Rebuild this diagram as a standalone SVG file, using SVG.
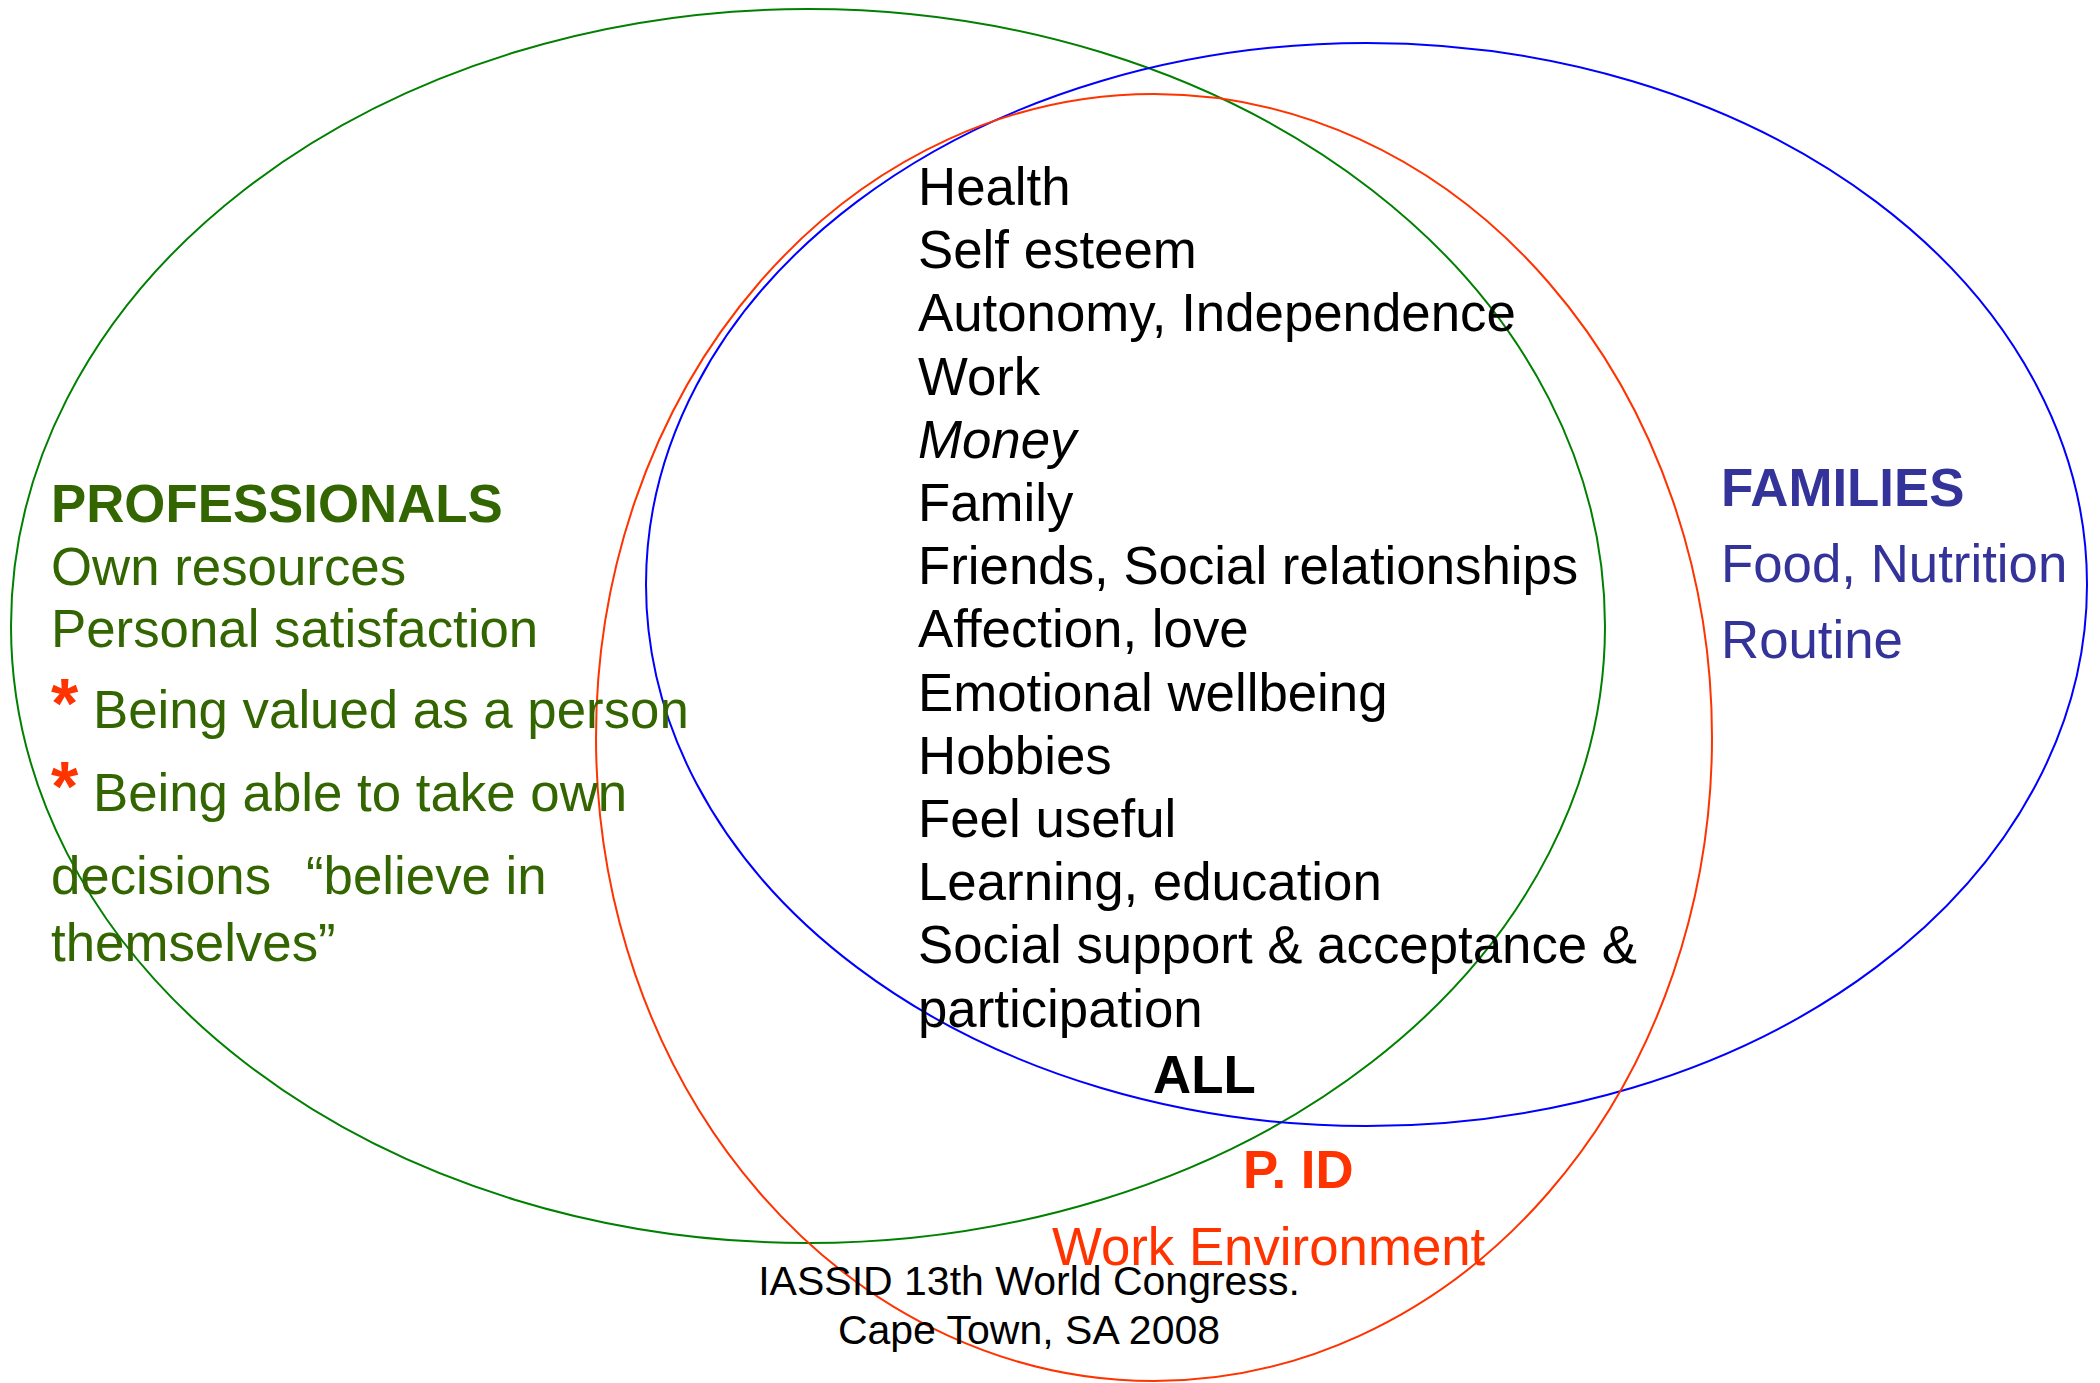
<svg xmlns="http://www.w3.org/2000/svg" width="2100" height="1383" viewBox="0 0 2100 1383">
<style>
text{font-family:"Liberation Sans",Arial,sans-serif;font-size:52.8px}
.ell{fill:none;stroke-width:2}
.blk{fill:#000}
.grn{fill:#336600}
.blu{fill:#333399}
.red{fill:#ff3300}
.b{font-weight:bold}
.ast{fill:#ff3300;font-weight:bold;font-size:70px}
.foot{font-size:41px;fill:#000;text-anchor:middle}
</style>
<rect width="2100" height="1383" fill="#fff"/>
<g id="sets">
<ellipse id="set-professionals" class="ell" cx="808" cy="626" rx="797" ry="617" stroke="#008000"/>
<ellipse id="set-families" class="ell" cx="1366.5" cy="584.5" rx="720.5" ry="541.5" stroke="#0000ff"/>
<ellipse id="set-pid" class="ell" cx="1154" cy="737.5" rx="558" ry="643.5" stroke="#ff3300"/>
</g>
<g id="connectors"></g>
<g id="common-needs" class="blk">
<text x="918" y="205">Health</text>
<text x="918" y="268">Self esteem</text>
<text x="918" y="331">Autonomy, Independence</text>
<text x="918" y="395">Work</text>
<text x="918" y="458" font-style="italic">Money</text>
<text x="918" y="521">Family</text>
<text x="918" y="584">Friends, Social relationships</text>
<text x="918" y="647">Affection, love</text>
<text x="918" y="711">Emotional wellbeing</text>
<text x="918" y="774">Hobbies</text>
<text x="918" y="837">Feel useful</text>
<text x="918" y="900">Learning, education</text>
<text x="918" y="963">Social support &amp; acceptance &amp;</text>
<text x="918" y="1027">participation</text>
</g>
<g id="all-label">
<text class="blk b" x="1153" y="1093">ALL</text>
</g>
<g id="professionals" class="grn">
<text class="b" x="51" y="522">PROFESSIONALS</text>
<text x="51" y="585">Own resources</text>
<text x="51" y="647">Personal satisfaction</text>
<text x="51" y="728"><tspan class="ast">*</tspan> Being valued as a person</text>
<text x="51" y="811"><tspan class="ast">*</tspan> Being able to take own</text>
<text x="51" y="894">decisions<tspan x="306">“believe in</tspan></text>
<text x="51" y="961">themselves”</text>
</g>
<g id="families" class="blu">
<text class="b" x="1721" y="506">FAMILIES</text>
<text x="1721" y="582">Food, Nutrition</text>
<text x="1721" y="658">Routine</text>
</g>
<g id="pid" class="red">
<text class="b" x="1243" y="1188">P. ID</text>
<text x="1052" y="1265">Work Environment</text>
</g>
<g id="footer">
<text class="foot" x="1029" y="1295">IASSID 13th World Congress.</text>
<text class="foot" x="1029" y="1344">Cape Town, SA 2008</text>
</g>
</svg>
